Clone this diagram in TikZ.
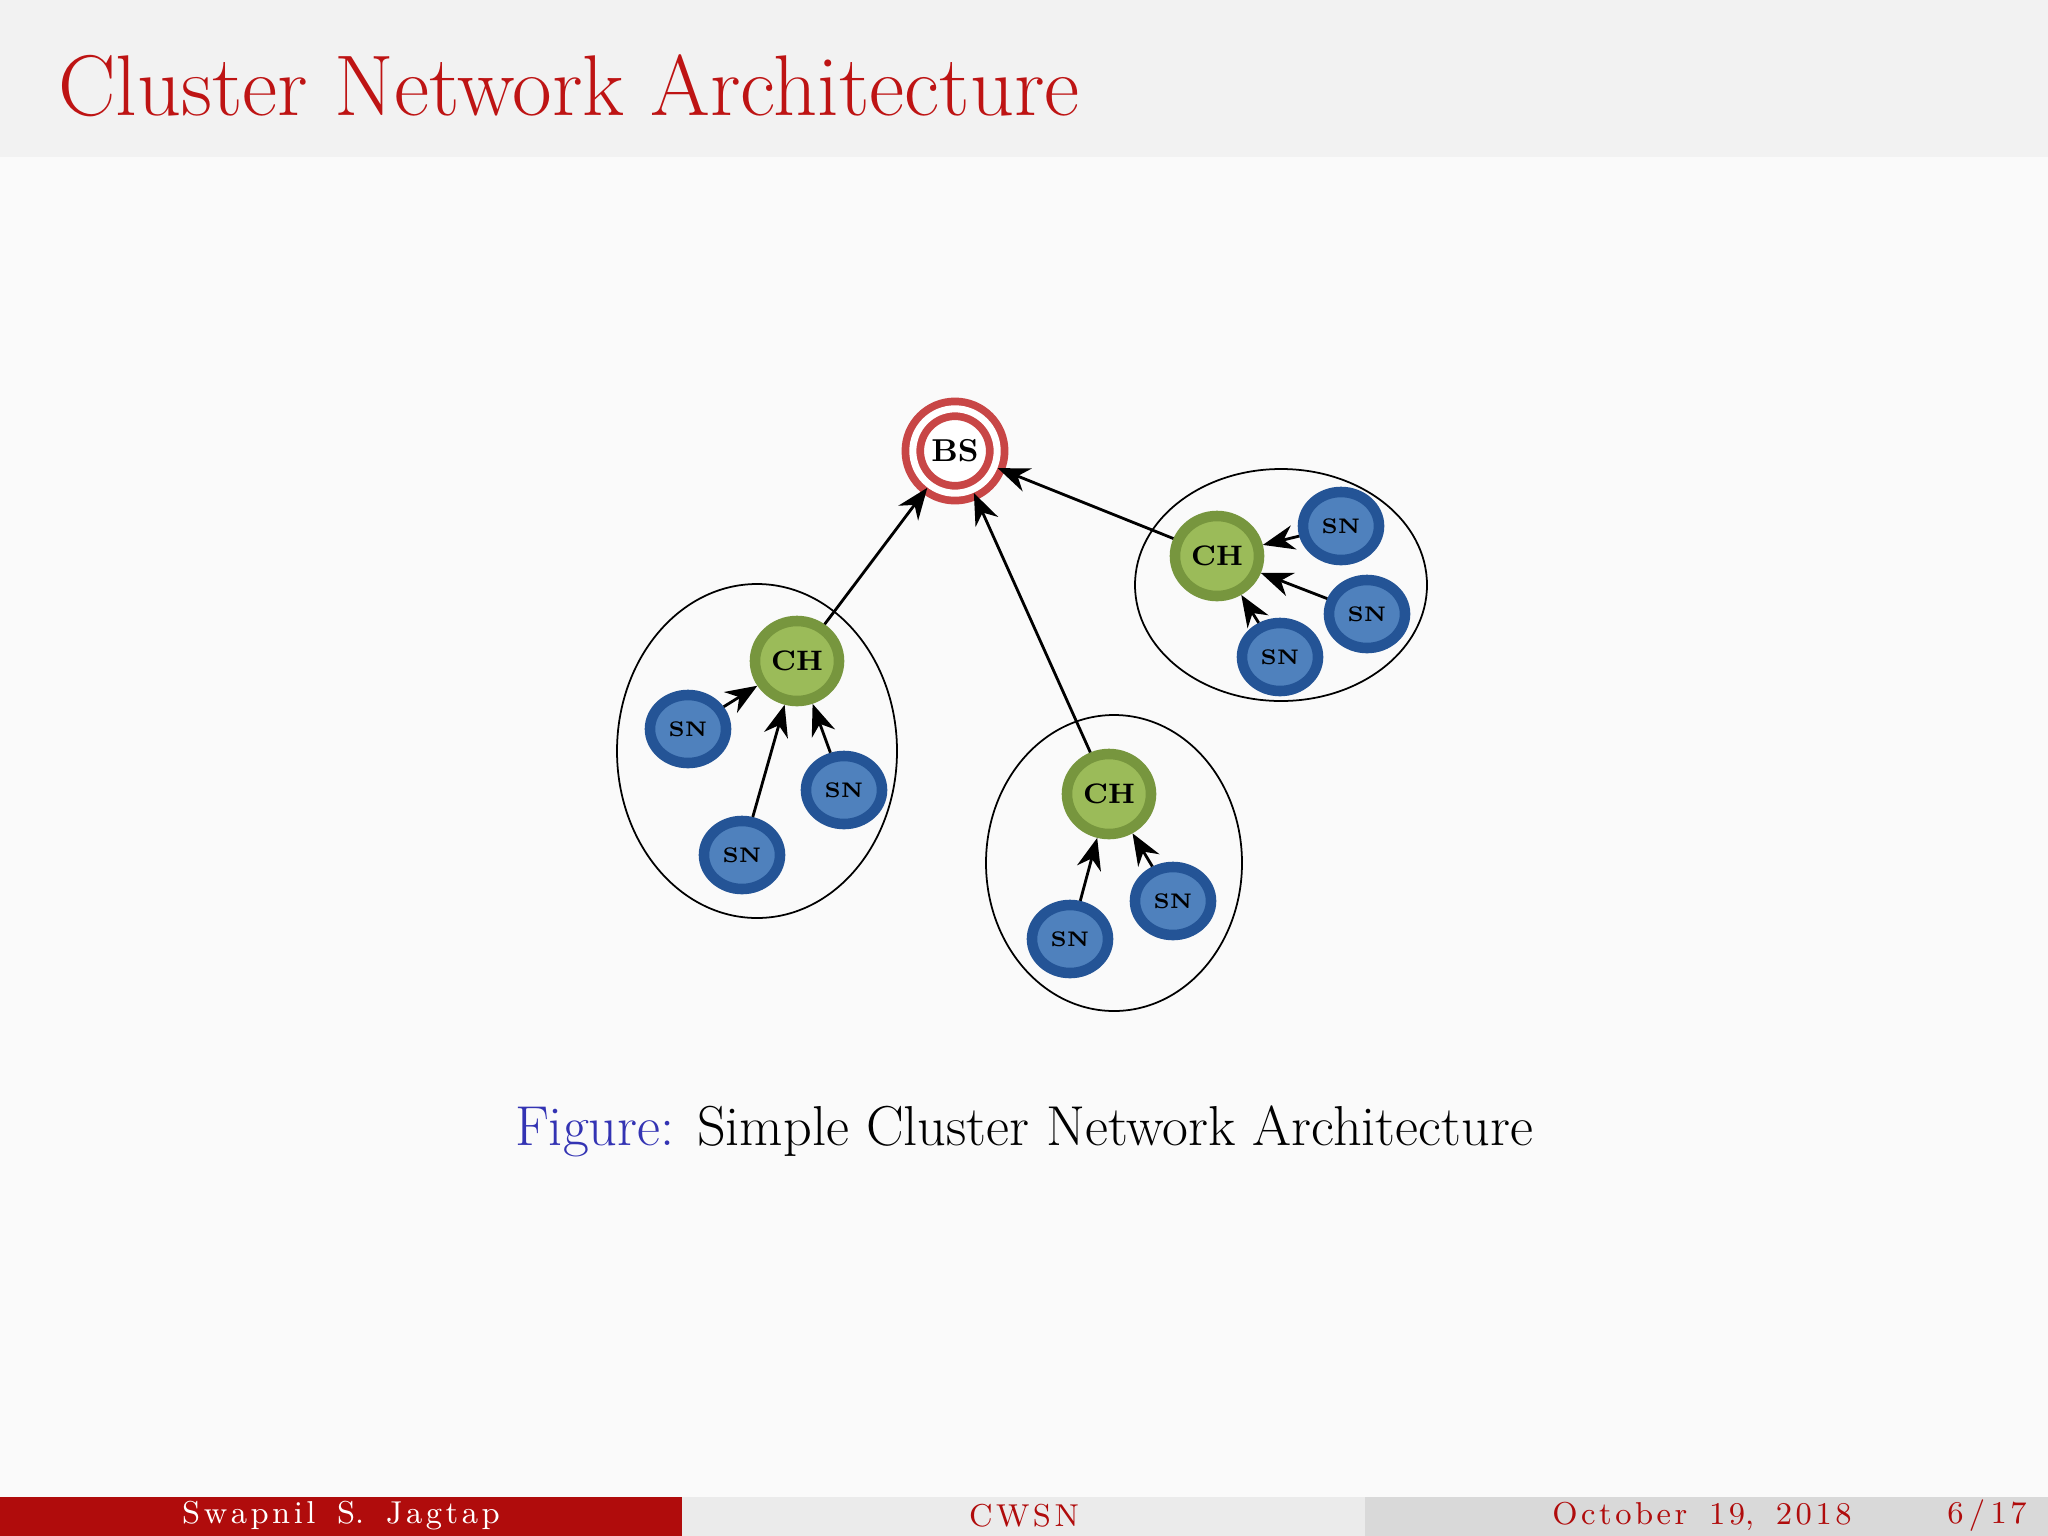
\documentclass[tikz,border=0pt]{standalone}
\usepackage{tikz}
\usetikzlibrary{positioning,arrows.meta,calc}
\definecolor{slidered}{RGB}{190,20,20}
\definecolor{barred}{RGB}{176,12,12}
\definecolor{snfill}{RGB}{79,129,189}
\definecolor{snline}{RGB}{36,84,150}
\definecolor{chfill}{RGB}{155,187,89}
\definecolor{chline}{RGB}{119,150,62}
\definecolor{bsline}{RGB}{200,70,70}
\definecolor{figblue}{RGB}{51,51,179}
\newcommand{\spc}[1]{\def\tmp{#1}#1}
\tikzset{
  sn/.style={ellipse,draw=snline,line width=3pt,fill=snfill,minimum width=0.76cm,minimum height=0.68cm,inner sep=0pt,font=\fontsize{6}{7}\selectfont\bfseries},
  ch/.style={ellipse,draw=chline,line width=3pt,fill=chfill,minimum width=0.84cm,minimum height=0.8cm,inner sep=0pt,font=\fontsize{8}{9}\selectfont\bfseries},
  link/.style={-{Stealth[length=9pt,width=7pt]},line width=0.8pt},
  clus/.style={draw,line width=0.5pt},
  foot/.style={font=\fontsize{9}{11}\selectfont}
}
\usetikzlibrary{shapes.geometric}
\begin{document}
\begin{tikzpicture}[x=0.01cm,y=-0.01cm]
    		\useasboundingbox (0,0) rectangle (2048,1536);
    		\fill[white!98!black] (0,0) rectangle (2048,1536);
    		\fill[black!5] (0,0) rectangle (2048,157);
    		\node[anchor=base west,text=slidered,font=\fontsize{24.5}{28}\selectfont] (title) at (46,115) {Cluster Network Architecture};
    		
    		% clusters
    		\draw[clus] (757,751) ellipse [x radius=140,y radius=167];
    		\draw[clus] (1114,863) ellipse [x radius=128,y radius=148];
    		\draw[clus] (1281,585) ellipse [x radius=146,y radius=116];
    		
    		\node[circle,draw=bsline,line width=2.2pt,double=white,double distance=2pt,fill=white,minimum size=0.84cm,font=\fontsize{9}{10}\selectfont\bfseries] (bs) at (955,451) {BS};
    		\node[ch] (ch1) at (797,661) {CH};
    		\node[ch] (ch2) at (1109,794) {CH};
    		\node[ch] (ch3) at (1217,556) {CH};
    		
    		\node[sn] (sn1) at (688,729) {SN};
    		\node[sn] (sn2) at (844,790) {SN};
    		\node[sn] (sn3) at (742,855) {SN};
    		\node[sn] (sn4) at (1070,939) {SN};
    		\node[sn] (sn5) at (1173,901) {SN};
    		\node[sn] (sn6) at (1341,526) {SN};
    		\node[sn] (sn7) at (1367,614) {SN};
    		\node[sn] (sn8) at (1280,657) {SN};
    		
    		\draw[link] (ch1) -- (bs);
    		\draw[link] (ch2) -- (bs);
    		\draw[link] (ch3) -- (bs);
    		\foreach \s/\c in {sn1/ch1,sn2/ch1,sn3/ch1,sn4/ch2,sn5/ch2,sn6/ch3,sn7/ch3,sn8/ch3}
    		  \draw[link] (\s) -- (\c);
    		
    		\node[font=\fontsize{16}{19}\selectfont] (cap) at (1024,1131) {\textcolor{figblue}{Figure:} Simple Cluster Network Architecture};
    		
    		% footer
    		\fill[barred] (0,1497) rectangle (682,1536);
    		\fill[black!8] (682,1497) rectangle (1365,1536);
    		\fill[black!15] (1365,1497) rectangle (2048,1536);
    		\node[foot,text=white] (auth) at (341,1516) {S\kern1ptw\kern1pta\kern1ptp\kern1ptn\kern1pti\kern1ptl\ \ S.\ \ J\kern1pta\kern1ptg\kern1ptt\kern1pta\kern1ptp};
    		\node[foot,text=barred] (short) at (1024,1516) {C\kern1ptW\kern1ptS\kern1ptN};
    		\node[foot,text=barred] (date) at (1702,1516) {O\kern1ptc\kern1ptt\kern1pto\kern1ptb\kern1pte\kern1ptr\ \ 1\kern1pt9,\ \ 2\kern1pt0\kern1pt1\kern1pt8};
    		\node[foot,text=barred] (page) at (1987,1516) {6\,/\,1\kern1pt7};
\end{tikzpicture}
\end{document}
